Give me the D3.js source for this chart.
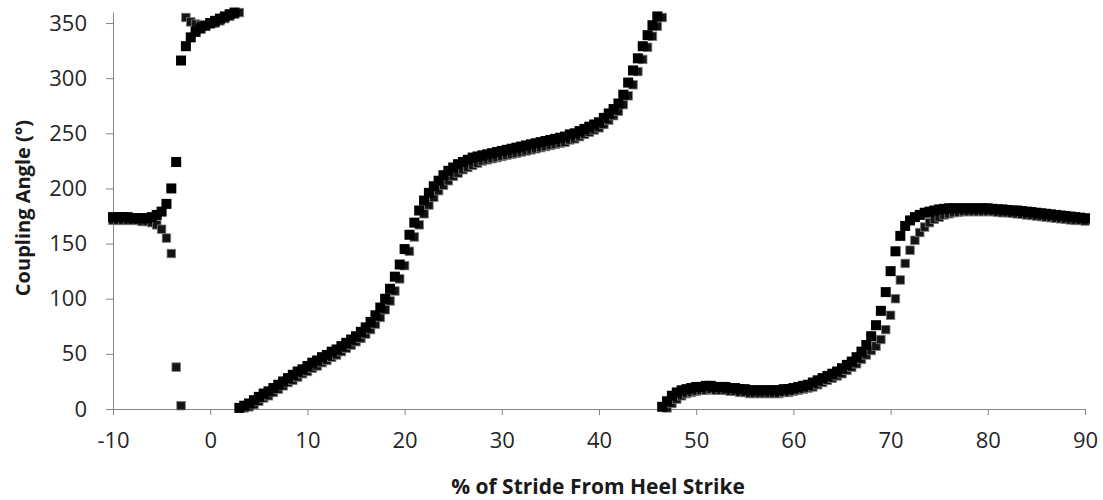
<!DOCTYPE html>
<html>
<head>
<meta charset="utf-8">
<script src="https://cdn.jsdelivr.net/npm/d3@7"></script>
<style>
body { margin: 0; background: #fff; }
text { font-family: "Open Sans", sans-serif; }
</style>
</head>
<body>
<svg id="chart" width="1103" height="500"></svg>
<script>
// % of stride (sample positions)
var stride = [
  -10, -9.5, -9, -8.5, -8, -7.5, -7, -6.5, -6,
  -5.5, -5, -4.5, -4, -3.5, -3, -2.5, -2, -1.5, -1, -0.5, 0, 0.5, 1, 1.5, 2, 2.5,
  3, 3.5, 4, 4.5, 5, 5.5, 6, 6.5, 7, 7.5, 8, 8.5, 9, 9.5, 10, 10.5, 11, 11.5, 12, 12.5,
  13, 13.5, 14, 14.5, 15, 15.5, 16, 16.5, 17, 17.5, 18, 18.5, 19, 19.5, 20, 20.5, 21, 21.5,
  22, 22.5, 23, 23.5, 24, 24.5, 25, 25.5, 26, 26.5, 27, 27.5, 28, 28.5, 29, 29.5, 30, 30.5,
  31, 31.5, 32, 32.5, 33, 33.5, 34, 34.5, 35, 35.5, 36, 36.5, 37, 37.5, 38, 38.5, 39, 39.5,
  40, 40.5, 41, 41.5, 42, 42.5, 43, 43.5, 44, 44.5, 45, 45.5, 46,
  46.5, 47, 47.5, 48, 48.5, 49, 49.5, 50, 50.5, 51, 51.5, 52, 52.5, 53, 53.5, 54, 54.5,
  55, 55.5, 56, 56.5, 57, 57.5, 58, 58.5, 59, 59.5, 60, 60.5, 61, 61.5, 62, 62.5, 63, 63.5,
  64, 64.5, 65, 65.5, 66, 66.5, 67, 67.5, 68, 68.5, 69, 69.5, 70, 70.5, 71, 71.5, 72, 72.5,
  73, 73.5, 74, 74.5, 75, 75.5, 76, 76.5, 77, 77.5, 78, 78.5, 79, 79.5, 80, 80.5, 81, 81.5,
  82, 82.5, 83, 83.5, 84, 84.5, 85, 85.5, 86, 86.5, 87, 87.5, 88, 88.5, 89, 89.5, 90
];

// coupling angle, first trial (black)
var angleA = [
  174, 174, 174, 174, 173, 173, 173, 173, 174,
  176, 179, 186, 200, 224, 316, 329, 337, 342, 345, 347.5, 350, 352, 354, 356, 358, 359.5,
  1, 3, 5, 8, 11, 14, 16, 19, 22, 25, 28, 31, 34, 36, 39, 42, 44, 47, 49, 52,
  54, 57, 60, 63, 66, 70, 74, 79, 85, 92, 100, 109, 120, 131, 145, 158, 169, 180,
  189, 196, 202, 207, 212, 216, 219, 222, 224, 226, 228, 229, 230, 231, 232, 233, 234, 235,
  236, 237, 238, 239, 240, 241, 242, 243, 244, 245, 246, 247, 249, 250, 252, 254, 256, 258,
  260, 264, 268, 272, 277, 285, 296, 307, 318, 329, 339, 348, 356,
  2, 7, 12, 15, 17, 18, 19, 20, 20, 21, 21, 20, 20, 20, 19, 19, 18,
  18, 17, 17, 17, 17, 17, 17, 17, 18, 18, 19, 20, 21, 22, 24, 26, 28, 30,
  32, 34, 37, 40, 43, 47, 52, 58, 66, 76, 89, 106, 125, 143, 157, 166, 171, 174,
  176, 178, 179, 180, 181, 181.5, 182, 182, 182, 182, 182, 182, 182, 182, 182, 181.5, 181, 181,
  180.5, 180, 180, 179.5, 179, 178.5, 178, 177.5, 177, 176.5, 176, 175.5, 175, 174.5, 174, 173.5, 173
];

// coupling angle, second trial (grey edged)
var angleB = [
  171, 171, 171, 171, 171, 171, 170, 170, 169,
  167, 163, 155, 141, 38, 3, 355, 351, 349, 348, 348, 349, 350, 352, 354, 356, 358,
  359.5, 1, 2, 4, 7, 10, 12, 15, 18, 21, 24, 26, 29, 32, 34, 37, 39, 42, 44, 47,
  49, 52, 55, 58, 61, 64, 68, 72, 77, 83, 90, 98, 107, 118, 130, 143, 156, 167,
  177, 185, 192, 198, 203, 207, 211, 214, 217, 219, 221, 223, 225, 226, 227, 228, 229, 230,
  231, 232, 233, 234, 235, 236, 237, 238, 239, 240, 241, 242, 244, 245, 247, 249, 251, 253,
  255, 258, 262, 266, 270, 276, 284, 294, 306, 317, 328, 338, 347,
  355, 1, 5, 9, 12, 14, 15, 16, 17, 17, 18, 17, 17, 17, 16, 16, 15,
  15, 14, 14, 14, 14, 14, 14, 14, 15, 15, 16, 17, 18, 19, 20, 22, 24, 26,
  28, 30, 32, 35, 38, 41, 45, 49, 53, 57, 63, 72, 85, 100, 117, 132, 144, 153,
  160, 165, 169, 172, 174, 176, 177, 178, 178.5, 179, 179, 179, 179, 179, 179, 179, 178.5, 178,
  178, 177.5, 177, 176.5, 176, 175.5, 175, 174.5, 174, 173.5, 173, 172.5, 172, 171.5, 171, 171, 170.5
];

var xTicks = [-10, 0, 10, 20, 30, 40, 50, 60, 70, 80, 90];
var yTicks = [0, 50, 100, 150, 200, 250, 300, 350];

var svg = d3.select("#chart");

var x = d3.scaleLinear().domain([-10, 90]).range([113, 1085]);
var y = d3.scaleLinear().domain([0, 360]).range([409, 12]);

// X axis (plain hyphen for negatives, as in the original)
svg.append("g")
    .attr("transform", "translate(0," + y(0) + ")")
    .call(d3.axisBottom(x).tickValues(xTicks).tickSizeInner(6).tickSizeOuter(0).tickPadding(17)
        .tickFormat(function (d) { return String(d); }));
// Y axis
svg.append("g")
    .attr("transform", "translate(" + x(-10) + ",0)")
    .call(d3.axisLeft(y).tickValues(yTicks).tickSizeInner(7).tickSizeOuter(0).tickPadding(19));

svg.selectAll(".domain, .tick line").attr("stroke", "#868686");
svg.selectAll(".tick text")
    .attr("font-size", 22)
    .attr("font-family", "Open Sans, sans-serif")
    .attr("fill", "#262626");

// the two trials, grey edged one underneath
function drawSquares(values, size, fill, stroke) {
    svg.append("g")
        .selectAll("rect")
        .data(stride)
        .enter()
        .append("rect")
        .attr("x", function (d) { return x(d) - size / 2; })
        .attr("y", function (d, i) { return y(values[i]) - size / 2; })
        .attr("width", size)
        .attr("height", size)
        .attr("fill", fill)
        .attr("stroke", stroke)
        .attr("stroke-width", stroke === "none" ? 0 : 0.8);
}
drawSquares(angleB, 8.5, "#141414", "#7a7a7a");
drawSquares(angleA, 10, "#000", "none");

// axis titles
svg.append("text")
    .attr("x", 598)
    .attr("y", 494)
    .attr("text-anchor", "middle")
    .attr("font-size", 21)
    .attr("font-weight", "bold")
    .attr("fill", "#1a1a1a")
    .text("% of Stride From Heel Strike");

svg.append("text")
    .attr("transform", "translate(30,208) rotate(-90)")
    .attr("text-anchor", "middle")
    .attr("font-size", 20)
    .attr("font-weight", "bold")
    .attr("fill", "#1a1a1a")
    .text("Coupling Angle (°)");
</script>
</body>
</html>
